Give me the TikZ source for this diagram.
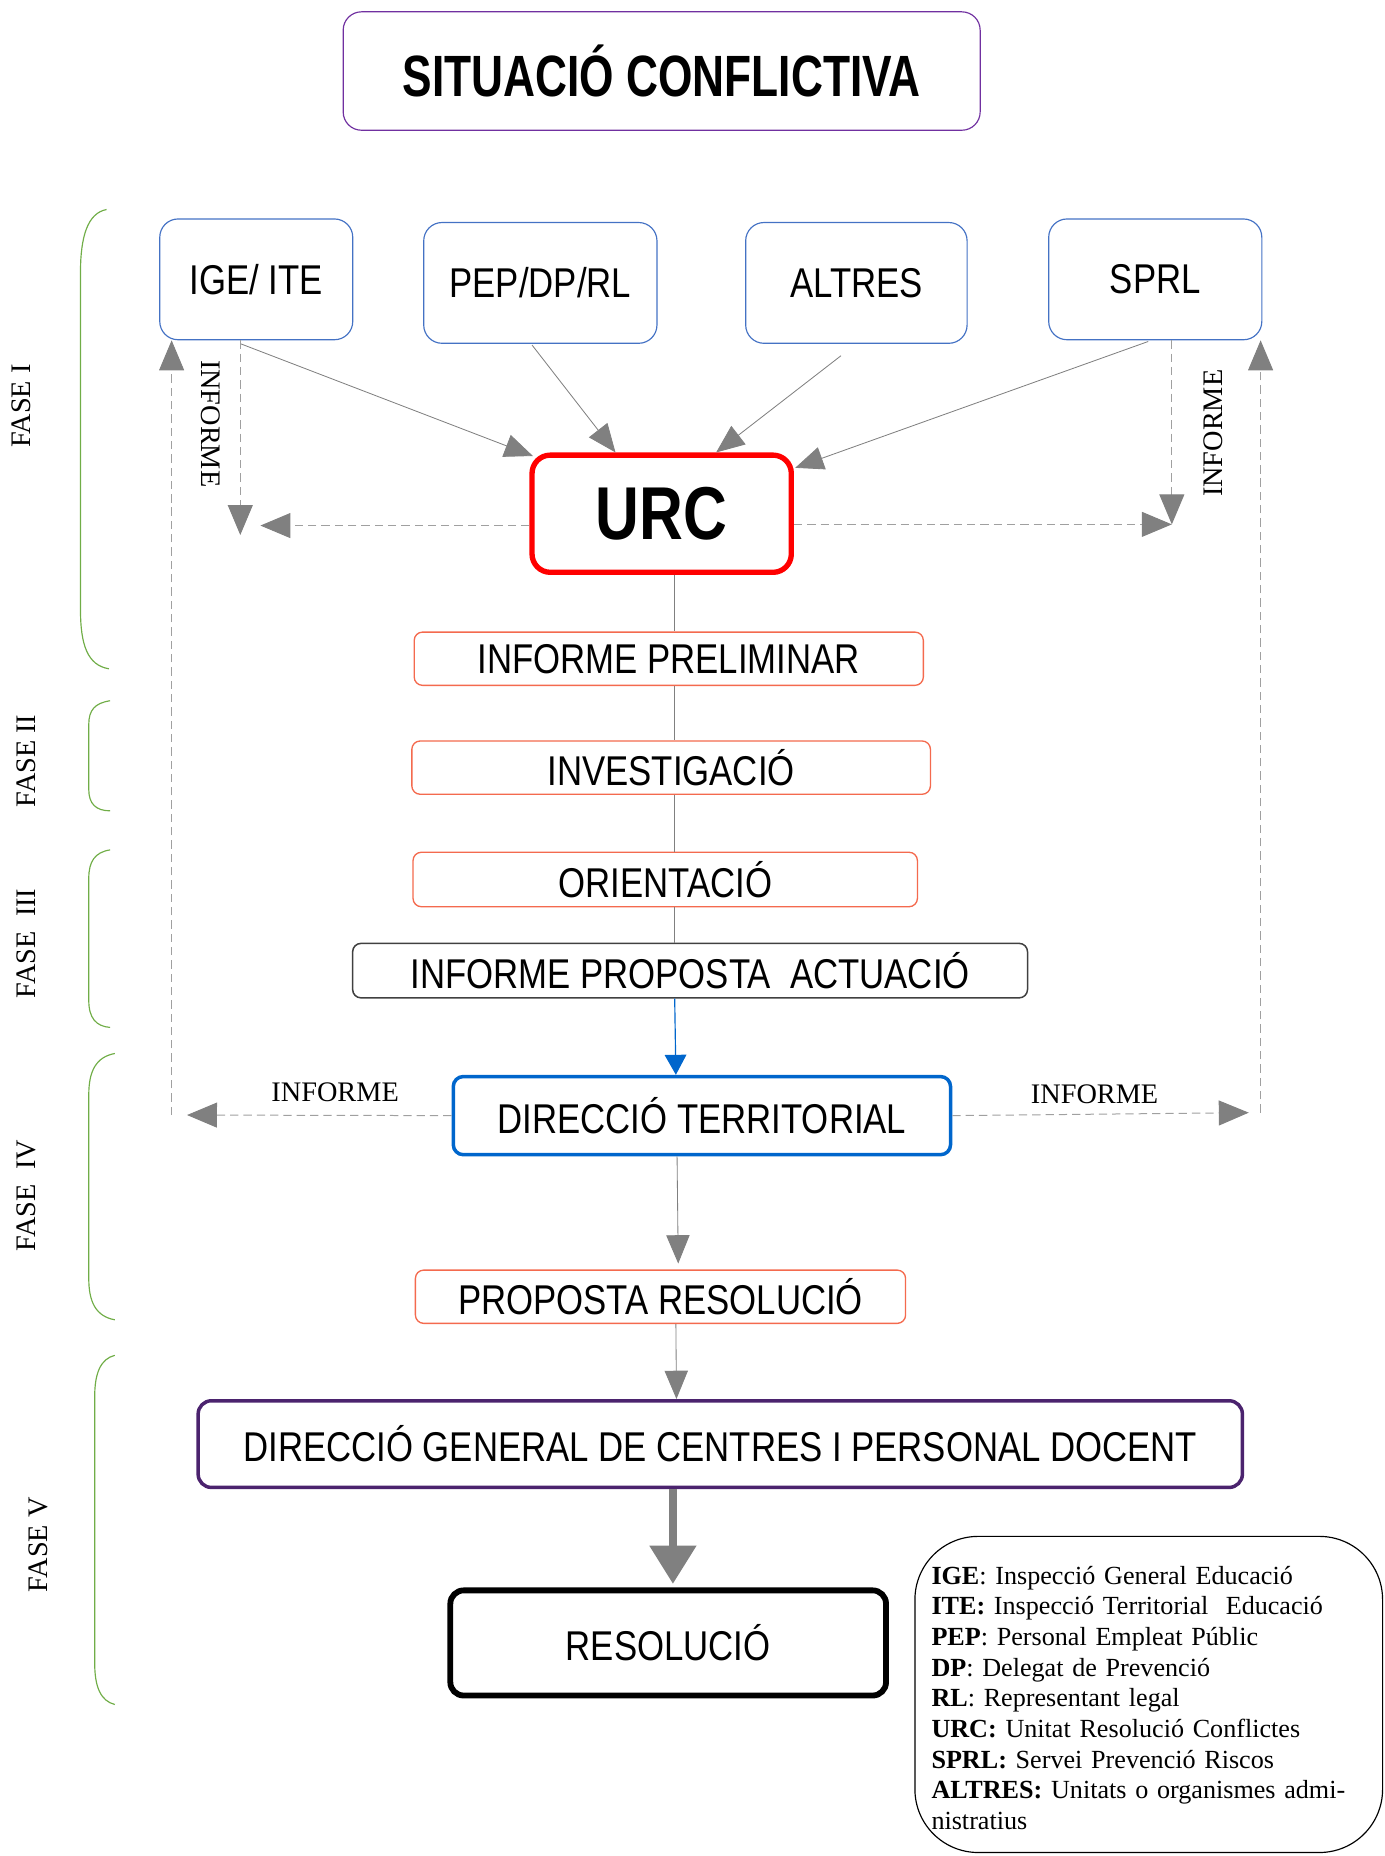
\documentclass[tikz,border=0pt]{standalone}
\usepackage{fontspec}
\setmainfont{Liberation Serif}
\newfontfamily\boxfont[FakeStretch=0.835]{Liberation Sans}
\newfontfamily\titlefont[FakeStretch=0.76]{Liberation Sans}
\newfontfamily\urcfont[FakeStretch=0.81]{Liberation Sans}
\usetikzlibrary{arrows.meta,calc}

\definecolor{boxblue}{RGB}{68,114,196}
\definecolor{sitpurple}{RGB}{112,48,160}
\definecolor{faseorange}{RGB}{244,106,78}
\definecolor{dtblue}{RGB}{0,102,204}
\definecolor{dgpurple}{RGB}{75,35,110}
\definecolor{bracegreen}{RGB}{112,173,71}
\definecolor{arrowgray}{RGB}{128,128,128}
\definecolor{dashgray}{RGB}{160,160,160}

\tikzset{
  every node/.style={inner sep=0pt},
  bigtxt/.style={font=\boxfont\fontsize{25}{30}\selectfont},
  sitbox/.style={draw=sitpurple, line width=0.7pt, rounded corners=11pt,
    minimum width=13.45cm, minimum height=2.5cm,
    font=\titlefont\bfseries\fontsize{35}{40}\selectfont},
  srcbox/.style={draw=boxblue, line width=0.7pt, rounded corners=11pt,
    minimum height=2.55cm, bigtxt},
  stepbox/.style={draw=faseorange, line width=0.8pt, rounded corners=5pt,
    minimum height=1.125cm, fill=white, bigtxt},
  arr/.style={arrowgray, line width=0.5pt, -{Triangle[length=17pt,width=14pt]}},
  darr/.style={dashgray, line width=0.6pt, dash pattern=on 5pt off 3pt,
    -{Triangle[length=18pt,width=15pt,color=arrowgray]}},
  brace/.style={draw=bracegreen, line width=0.7pt},
  fase/.style={rotate=90, font=\fontsize{17}{20}\selectfont},
  informe/.style={text=black, font=\fontsize{17}{20}\selectfont}
}

\begin{document}
\begin{tikzpicture}[x=0.025cm,y=-0.025cm]
\useasboundingbox (0,0) rectangle (1170,1568);

\node[sitbox] (sit) at (559,60) {SITUACIÓ CONFLICTIVA};

\node[srcbox, minimum width=4.075cm] (ige) at (216.5,236) {IGE/ ITE};
\node[srcbox, minimum width=4.925cm] (pep) at (456.5,239) {PEP/DP/RL};
\node[srcbox, minimum width=4.675cm] (alt) at (723.5,239) {ALTRES};
\node[srcbox, minimum width=4.5cm] (sprl) at (976,236) {SPRL};

\node[draw=red, line width=3.2pt, rounded corners=11pt, minimum width=5.475cm,
  minimum height=2.475cm, font=\urcfont\bfseries\fontsize{45}{50}\selectfont]
  (urc) at (559,434) {URC};

\node[stepbox, minimum width=10.75cm] (prel) at (565,556.5) {INFORME PRELIMINAR};
\node[stepbox, minimum width=10.95cm] (inv) at (567,648.5) {INVESTIGACIÓ};
\node[stepbox, minimum width=10.65cm, minimum height=1.15cm] (ori) at (562,743) {ORIENTACIÓ};
\node[draw=black!75, line width=0.9pt, rounded corners=5pt, minimum width=14.25cm,
  minimum height=1.15cm, bigtxt] (ipa) at (583,820) {INFORME PROPOSTA\ \ ACTUACIÓ};
\node[draw=dtblue, line width=2.1pt, rounded corners=6pt, minimum width=10.5cm,
  minimum height=1.65cm, bigtxt] (dt) at (593,942.5) {DIRECCIÓ TERRITORIAL};
\node[stepbox, minimum width=10.35cm] (prop) at (558,1095.5) {PROPOSTA RESOLUCIÓ};
\node[draw=dgpurple, line width=2.1pt, rounded corners=8pt, minimum width=22.05cm,
  minimum height=1.83cm, bigtxt] (dg) at (608.5,1220)
  {DIRECCIÓ GENERAL DE CENTRES I PERSONAL DOCENT};
\node[draw=black, line width=3.5pt, rounded corners=8pt, minimum width=9.2cm,
  minimum height=2.22cm, bigtxt] (res) at (564.5,1388) {RESOLUCIÓ};

\node[draw=black, line width=0.7pt, rounded corners=38pt, minimum width=9.875cm,
  minimum height=6.675cm, text width=9.175cm, inner xsep=0.35cm, align=left,
  font=\fontsize{15.7}{18.4}\selectfont] (legend) at (970.5,1431.5)
  {\rule{0pt}{15pt}\textbf{IGE}: Inspecció General Educació\\
   \textbf{ITE:} Inspecció Territorial\ \ Educació\\
   \textbf{PEP}: Personal Empleat Públic\\
   \textbf{DP}: Delegat de Prevenció\\
   \textbf{RL}: Representant legal\\
   \textbf{URC:} Unitat Resolució Conflictes\\
   \textbf{SPRL:} Servei Prevenció Riscos\\
   \textbf{ALTRES:} Unitats o organismes admi-\\
   nistratius};

\draw[arr] ($(ige.south)+(-13,3)$) -- ($(urc.north west)+(3,3)$);
\draw[arr] ($(pep.south)+(-7,1)$) -- ($(urc.north)+(-39,0)$);
\draw[arr] ($(alt.south)+(-13,10)$) -- ($(urc.north)+(46,0)$);
\draw[arr] ($(sprl.south)+(-6,1)$) -- ($(urc.north east)+(1,13)$);

\coordinate (infl) at (203,452);
\coordinate (urcl) at (220,444);
\coordinate (infr) at (990,443);
\draw[darr] (ige.south -| infl) -- (infl);
\draw[darr] (urc.west |- urcl) -- (urcl);
\draw[darr] (sprl.south -| infr) -- (infr);
\draw[darr] (urc.east |- infr) -- (infr);
\node[informe, rotate=-90] (infla) at (178,358) {INFORME};
\node[informe, rotate=90] (infra) at (1025,366) {INFORME};

\coordinate (mid) at (570,0);
\draw[arrowgray, line width=0.5pt] (urc.south -| mid) -- (prel.north -| mid);
\draw[arrowgray, line width=0.5pt] (prel.south -| mid) -- (inv.north -| mid);
\draw[arrowgray, line width=0.5pt] (inv.south -| mid) -- (ori.north -| mid);
\draw[arrowgray, line width=0.5pt] (ori.south -| mid) -- (ipa.north -| mid);
\draw[dtblue, line width=0.7pt, -{Triangle[length=12pt,width=13pt]}] ($(ipa.south)+(-13,0)$) -- ($(dt.north)+(-22,0)$);
\draw[arr] ($(dt.south)+(-21,0)$) -- ($(prop.north)+(15,-5)$);
\draw[arr] ($(prop.south)+(13,0)$) -- ($(dg.north)+(-37,0)$);
\draw[arrowgray, line width=5pt, -{Triangle[length=23pt,width=27pt]}] ($(dg.south)+(-40,0)$) -- ($(res.north)+(4,-3)$);

\coordinate (dtl) at (145,942);
\coordinate (dtlt) at (158,942);
\coordinate (dtr) at (1065,940);
\coordinate (dtrt) at (1055,940);
\draw[darr] (dtl) -- (dtl |- ige.south);
\draw[darr] (dtr) -- (dtr |- sprl.south);
\draw[darr] (dt.west) -- (dtlt) node[informe, pos=0.44, above=8pt] (infdl) {INFORME};
\draw[darr] (dt.east) -- (dtrt) node[informe, pos=0.48, above=6pt] (infdr) {INFORME};

\draw[brace] (90,177) .. controls (74,180) and (68,200) .. (68,230) -- (68,515)
  .. controls (68,545) and (74,562) .. (92,565);
\draw[brace] (93,592) .. controls (80,594) and (75,600) .. (75,612) -- (75,667)
  .. controls (75,679) and (81,685) .. (93,685);
\draw[brace] (93,718) .. controls (80,720) and (75,728) .. (75,742) -- (75,845)
  .. controls (75,860) and (81,867) .. (93,868);
\draw[brace] (97,890) .. controls (81,893) and (75,905) .. (75,925) -- (75,1080)
  .. controls (75,1100) and (81,1112) .. (97,1115);
\draw[brace] (97,1145) .. controls (85,1148) and (80,1160) .. (80,1180) -- (80,1405)
  .. controls (80,1425) and (85,1437) .. (97,1440);

\node[fase] (f1) at (18,343) {FASE I};
\node[fase] (f2) at (22,643) {FASE II};
\node[fase] (f3) at (22,797) {FASE\ \ III};
\node[fase] (f4) at (22,1010) {FASE\ \ IV};
\node[fase] (f5) at (32,1305) {FASE V};
\end{tikzpicture}
\end{document}
